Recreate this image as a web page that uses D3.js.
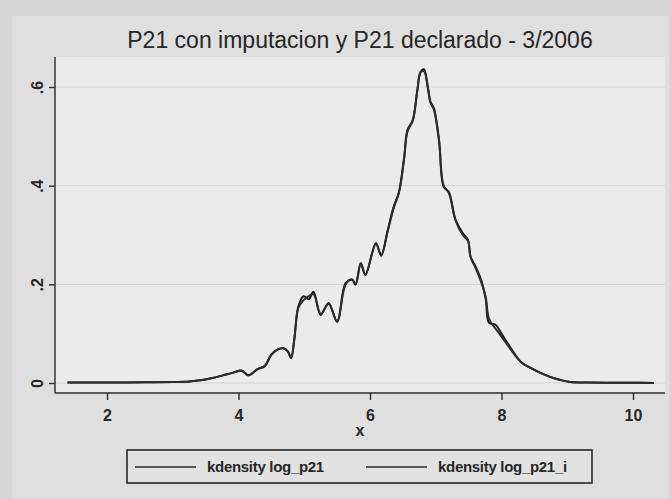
<!DOCTYPE html>
<html>
<head>
<meta charset="utf-8">
<style>
body { margin:0; background:#dadada; }
text { font-family: "Liberation Sans", Arial, sans-serif; fill:#262626; }
</style>
<script src="https://cdn.jsdelivr.net/npm/d3@7"></script>
</head>
<body>
<div id="chart"></div>
<script>
var width = 671
var height = 499

// kdensity estimates
var xs = [1.4, 1.8, 2.2, 2.6, 3.0, 3.25, 3.45, 3.6, 3.75, 3.92,
  4.05, 4.15, 4.29, 4.4, 4.5, 4.6, 4.68, 4.75, 4.8, 4.85,
  4.91, 4.99, 5.07, 5.14, 5.25, 5.37, 5.5, 5.63, 5.73, 5.78,
  5.86, 5.93, 6.09, 6.17, 6.27, 6.36, 6.44, 6.52, 6.57, 6.65,
  6.72, 6.77, 6.82, 6.88, 6.92, 6.97, 7.05, 7.12, 7.2, 7.3,
  7.41, 7.49, 7.53, 7.61, 7.69, 7.76, 7.81, 7.91, 8.0, 8.14,
  8.3, 8.45, 8.6, 8.75, 8.9, 9.05, 9.3, 9.6, 10.0, 10.32]

var dens_p21 = [0.001, 0.001, 0.001, 0.0015, 0.002, 0.003, 0.006, 0.01, 0.015, 0.021,
  0.025, 0.015, 0.028, 0.034, 0.058, 0.068, 0.07, 0.064, 0.05, 0.09,
  0.155, 0.176, 0.17, 0.185, 0.138, 0.162, 0.124, 0.203, 0.209, 0.199,
  0.243, 0.219, 0.284, 0.258, 0.31, 0.357, 0.387, 0.458, 0.513, 0.533,
  0.594, 0.631, 0.636, 0.6, 0.57, 0.558, 0.493, 0.398, 0.387, 0.331,
  0.304, 0.29, 0.256, 0.235, 0.209, 0.17, 0.122, 0.118, 0.1, 0.071,
  0.042, 0.03, 0.02, 0.012, 0.006, 0.002, 0.001, 0.0005, 0.0003, 0.0002]

var dens_p21_i = [0.001, 0.001, 0.001, 0.0015, 0.002, 0.003, 0.006, 0.01, 0.015, 0.021,
  0.025, 0.016, 0.028, 0.035, 0.057, 0.068, 0.071, 0.064, 0.051, 0.09,
  0.152, 0.168, 0.176, 0.18, 0.14, 0.16, 0.126, 0.2, 0.21, 0.2,
  0.241, 0.22, 0.282, 0.26, 0.308, 0.355, 0.385, 0.456, 0.51, 0.531,
  0.592, 0.63, 0.632, 0.598, 0.568, 0.555, 0.49, 0.4, 0.385, 0.33,
  0.3, 0.288, 0.255, 0.232, 0.205, 0.175, 0.13, 0.11, 0.094, 0.068,
  0.042, 0.03, 0.02, 0.012, 0.006, 0.002, 0.001, 0.0005, 0.0003, 0.0002]

var xTicks = [2, 4, 6, 8, 10]
var yTicks = [0, 0.2, 0.4, 0.6]
var yTickLabels = ["0", ".2", ".4", ".6"]
var seriesNames = ["kdensity log_p21", "kdensity log_p21_i"]
var title = "P21 con imputacion y P21 declarado - 3/2006"

var svg = d3.select("#chart").append("svg")
    .attr("width", width)
    .attr("height", height)

svg.append("rect").attr("width", width).attr("height", height).attr("fill", "#d6d6d6")
svg.append("rect").attr("x", 12).attr("y", 16).attr("width", width - 14).attr("height", height - 17)
    .attr("fill", "#dfdfdf")

var plotL = 55, plotR = 665, plotT = 57, plotB = 393

var x = d3.scaleLinear().domain([2, 10]).range([107, 633])
var y = d3.scaleLinear().domain([0, 0.6]).range([383, 87])

svg.append("rect")
    .attr("x", plotL).attr("y", plotT)
    .attr("width", plotR - plotL).attr("height", plotB - plotT)
    .attr("fill", "#ebebeb")

// faint gridlines
svg.selectAll(".grid")
  .data(yTicks)
  .enter().append("line")
    .attr("class", "grid")
    .attr("x1", plotL).attr("x2", plotR)
    .attr("y1", function(d) { return y(d) }).attr("y2", function(d) { return y(d) })
    .attr("stroke", "#d3d3d3").attr("stroke-width", 1)

// axes
var gx = svg.append("g").attr("transform", "translate(0," + plotB + ")")
gx.call(d3.axisBottom(x).tickValues(xTicks).tickSize(7).tickFormat(d3.format("d")))
gx.select(".domain").remove()
gx.append("line").attr("x1", plotL).attr("x2", plotR).attr("stroke", "#2a2a2a").attr("stroke-width", 1.4)
gx.selectAll(".tick line").attr("stroke", "#2a2a2a").attr("stroke-width", 1.4)
gx.selectAll(".tick text")
    .attr("y", 28).attr("dy", null)
    .style("font-size", "16px").style("font-weight", "bold")
    .style("font-family", "Liberation Sans, Arial, sans-serif")
    .attr("fill", "#2a2a2a")

var gy = svg.append("g").attr("transform", "translate(" + plotL + ",0)")
gy.call(d3.axisLeft(y).tickValues(yTicks).tickSize(6)
    .tickFormat(function(d, i) { return yTickLabels[i] }))
gy.select(".domain").remove()
gy.append("line").attr("y1", plotT).attr("y2", plotB).attr("stroke", "#2a2a2a").attr("stroke-width", 1.4)
gy.selectAll(".tick line").attr("stroke", "#2a2a2a").attr("stroke-width", 1.4)
gy.selectAll(".tick text")
    .attr("x", null).attr("dy", null)
    .attr("transform", "translate(-12,0) rotate(-90)")
    .attr("text-anchor", "middle")
    .style("font-size", "16px").style("font-weight", "bold")
    .style("font-family", "Liberation Sans, Arial, sans-serif")
    .attr("fill", "#2a2a2a")

svg.append("text")
    .attr("x", (plotL + plotR) / 2).attr("y", 436)
    .attr("text-anchor", "middle")
    .style("font-size", "16px").style("font-weight", "bold")
    .text("x")

svg.append("text")
    .attr("x", 360).attr("y", 48)
    .attr("text-anchor", "middle")
    .style("font-size", "23px")
    .text(title)

// density lines
var line = d3.line()
    .x(function(d) { return x(d[0]) })
    .y(function(d) { return y(d[1]) })
    .curve(d3.curveCatmullRom)

var series = [dens_p21, dens_p21_i]
series.forEach(function(s, k) {
  svg.append("path")
    .datum(xs.map(function(v, i) { return [v, s[i]] }))
    .attr("d", line)
    .attr("fill", "none")
    .attr("stroke", k == 0 ? "#1c1c1c" : "#2c2c2c")
    .attr("stroke-width", 2)
})

// legend
var lg = svg.append("g")
lg.append("rect")
    .attr("x", 127).attr("y", 450).attr("width", 465).attr("height", 33)
    .attr("fill", "#e2e2e2").attr("stroke", "#262626").attr("stroke-width", 1.6)

var legX = [135, 366]
seriesNames.forEach(function(n, i) {
  lg.append("line")
    .attr("x1", legX[i]).attr("x2", legX[i] + 61)
    .attr("y1", 467).attr("y2", 467)
    .attr("stroke", "#262626").attr("stroke-width", 1.3)
  lg.append("text")
    .attr("x", legX[i] + 72).attr("y", 472)
    .style("font-size", "15px").style("font-weight", "bold")
    .style("letter-spacing", "-0.3px")
    .text(n)
})
</script>
</body>
</html>
